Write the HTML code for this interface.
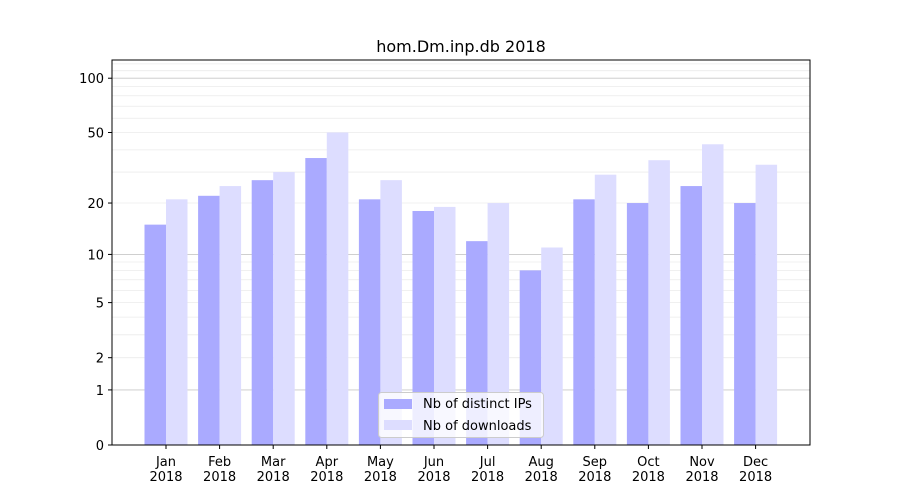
<!DOCTYPE html>
<html><head><meta charset="utf-8"><style>body{margin:0;background:#fff}svg{display:block}text{font-family:"DejaVu Sans","Liberation Sans",sans-serif;font-size:13px;fill:#000}</style></head>
<body>
<svg id="s" width="900" height="500" xmlns="http://www.w3.org/2000/svg"></svg>
<script>
const s=document.getElementById('s');let h='';
const Y=v=>445-183*Math.log10(1+v);
// minor grid
const minors=[2,3,4,5,6,7,8,9,20,30,40,50,60,70,80,90,110,120];
minors.forEach(v=>{const y=Y(v);if(y>60)h+=`<line x1="112" x2="810" y1="${y}" y2="${y}" stroke="#ebebeb" stroke-width="0.8"/>`});
[1,10,100].forEach(v=>{const y=Y(v);h+=`<line x1="112" x2="810" y1="${y}" y2="${y}" stroke="#c8c8c8" stroke-width="0.9"/>`});
const d=[15,22,27,36,21,18,12,8,21,20,25,20],l=[21,25,30,50,27,19,20,11,29,35,43,33];
const m=['Jan','Feb','Mar','Apr','May','Jun','Jul','Aug','Sep','Oct','Nov','Dec'];
for(let i=0;i<12;i++){const c=166+i*53.6;
h+=`<rect x="${c-21.5}" y="${Y(d[i])}" width="21.5" height="${445-Y(d[i])}" fill="#aaaaff"/>`;
h+=`<rect x="${c}" y="${Y(l[i])}" width="21.5" height="${445-Y(l[i])}" fill="#ddddff"/>`;
h+=`<line x1="${c}" x2="${c}" y1="445" y2="449" stroke="#000"/>`;
h+=`<text x="${c}" y="466" text-anchor="middle">${m[i]}</text><text x="${c}" y="481" text-anchor="middle">2018</text>`;}
[0,1,2,5,10,20,50,100].forEach(v=>{const y=Y(v);h+=`<line x1="108" x2="112" y1="${y}" y2="${y}" stroke="#000"/><text x="104" y="${y+5}" text-anchor="end">${v}</text>`});
h+=`<rect x="112" y="60" width="698" height="385" fill="none" stroke="#000"/>`;
h+=`<text x="461" y="52" text-anchor="middle" style="font-size:16px">hom.Dm.inp.db 2018</text>`;
h+=`<rect x="378.5" y="392.5" width="165" height="45" rx="3" fill="#fff" fill-opacity="0.8" stroke="#ccc"/>`;
h+=`<rect x="384" y="399" width="28" height="10" fill="#aaaaff"/><text x="423" y="408">Nb of distinct IPs</text>`;
h+=`<rect x="384" y="420" width="28" height="10" fill="#ddddff"/><text x="423" y="430">Nb of downloads</text>`;
s.innerHTML=h;
</script>
</body></html>
